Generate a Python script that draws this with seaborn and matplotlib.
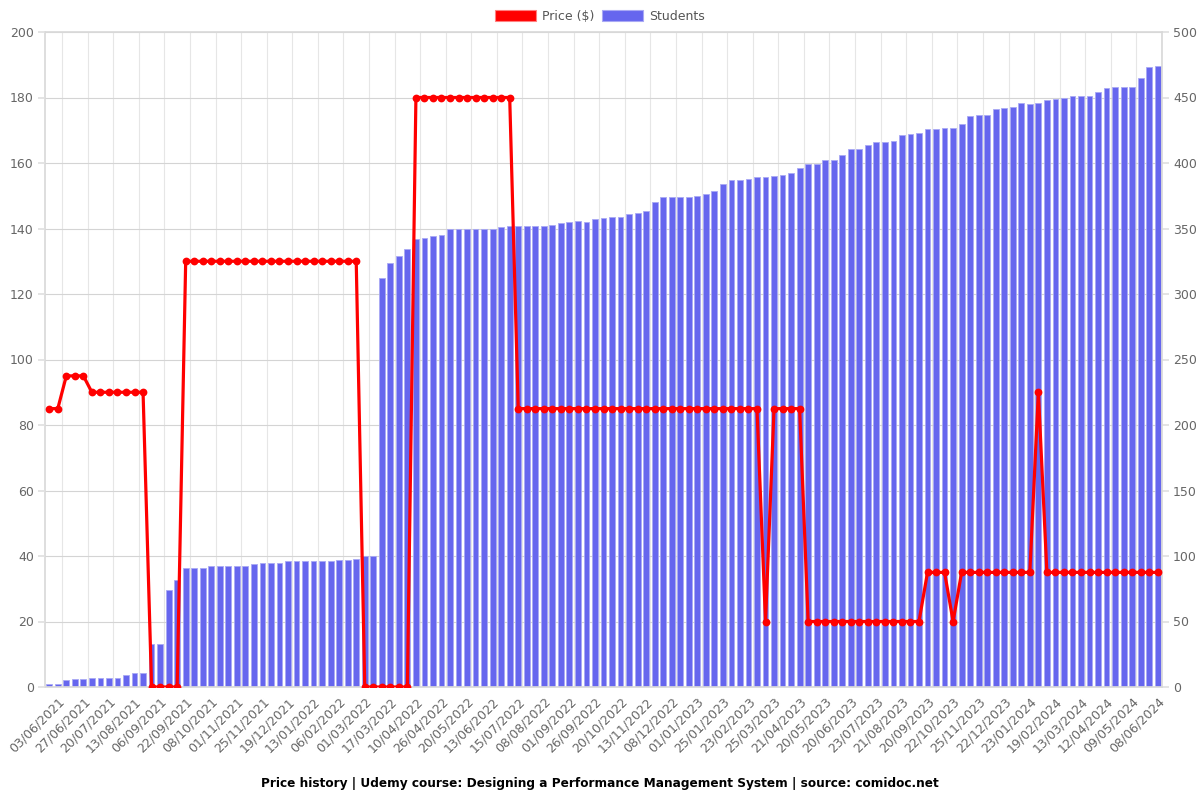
import matplotlib
matplotlib.use("Agg")
import matplotlib.pyplot as plt
import numpy as np
import pandas as pd
import seaborn as sns
from matplotlib.patches import Patch

# ---- data ----
price = ([85] * 2 + [95] * 3 + [90] * 7 + [0] * 4 + [130] * 21 + [0] * 6 +
         [180] * 12 + [85] * 29 + [20] + [85] * 4 + [20] * 14 + [35] * 3 +
         [20] + [35] * 9 + [90] + [35] * 14)

students = [2, 2, 5, 6, 6, 7, 7, 7, 7, 9, 11, 11, 33, 33, 74, 82, 91, 91, 91, 92,
            92, 92, 92, 92, 94, 95, 95, 95, 96, 96, 96, 96, 96, 96, 97, 97, 98, 100, 100, 312,
            324, 329, 334, 342, 343, 344, 345, 350, 350, 350, 350, 350, 350, 351, 352, 352, 352, 352, 352, 353,
            354, 355, 356, 355, 357, 358, 359, 359, 361, 362, 363, 370, 374, 374, 374, 374, 375, 376, 379, 384,
            387, 387, 388, 389, 389, 390, 391, 392, 396, 399, 399, 402, 402, 406, 411, 411, 414, 416, 416, 417,
            421, 422, 423, 426, 426, 427, 427, 430, 436, 437, 437, 441, 442, 443, 446, 445, 446, 448, 449, 450,
            451, 451, 451, 454, 457, 458, 458, 458, 465, 473, 474]

tick_labels = ["03/06/2021", "27/06/2021", "20/07/2021", "13/08/2021", "06/09/2021", "22/09/2021",
               "08/10/2021", "01/11/2021", "25/11/2021", "19/12/2021", "13/01/2022", "06/02/2022",
               "01/03/2022", "17/03/2022", "10/04/2022", "26/04/2022", "20/05/2022", "13/06/2022",
               "15/07/2022", "08/08/2022", "01/09/2022", "26/09/2022", "20/10/2022", "13/11/2022",
               "08/12/2022", "01/01/2023", "25/01/2023", "23/02/2023", "25/03/2023", "21/04/2023",
               "20/05/2023", "20/06/2023", "23/07/2023", "21/08/2023", "20/09/2023", "22/10/2023",
               "25/11/2023", "22/12/2023", "23/01/2024", "19/02/2024", "13/03/2024", "12/04/2024",
               "09/05/2024", "08/06/2024"]

title = "Price history | Udemy course: Designing a Performance Management System | source: comidoc.net"

n = len(price)
df = pd.DataFrame({"idx": np.arange(n), "price": price, "students": students})

sns.set_theme(style="white")
plt.rcParams["font.family"] = ["DejaVu Sans"]

W, H = 1200, 800
fig = plt.figure(figsize=(W / 100, H / 100), dpi=100)
ax = fig.add_axes([45 / W, 1 - 687 / H, (1162 - 45) / W, (687 - 32) / H])

BAR = "#6666ee"
RED = "#ff0000"
GRID = "#d4d4d4"
TXT = "#666666"

sns.barplot(data=df, x="idx", y="students", color=BAR, saturation=1, width=0.68,
            edgecolor="#a9a9f4", linewidth=0.6, ax=ax)
ax.set_ylim(0, 500)
ax.set_yticks(np.arange(0, 501, 50))
ax.set_axisbelow(True)
ax.yaxis.grid(True, color=GRID, linewidth=0.8)

ax2 = ax.twinx()
sns.lineplot(data=df, x="idx", y="price", color=RED, linewidth=2.3, marker="o",
             markersize=5.6, markeredgewidth=0, ax=ax2)
ax2.set_ylim(0, 200)
ax2.set_yticks(np.arange(0, 201, 20))
ax2.yaxis.tick_left()
ax.yaxis.tick_right()

ax.set_xlim(-0.5, n - 0.5)
label_pos = np.arange(1, n, 3)
ax.set_xticks(label_pos)
ax.set_xticklabels(tick_labels, rotation=45, ha="right", rotation_mode="anchor",
                   fontsize=9, color=TXT)
ax.set_xticks(np.arange(1.5, n, 3), minor=True)
ax.tick_params(axis="x", which="major", length=0, pad=6)
ax.tick_params(axis="x", which="minor", length=5, color="#e0e0e0", width=0.8)
ax.xaxis.grid(True, which="minor", color="#e6e6e6", linewidth=0.8)
ax.xaxis.grid(False, which="major")

ax.tick_params(axis="y", length=5, color="#e0e0e0", labelsize=9, labelcolor=TXT, pad=3)
ax2.tick_params(axis="y", length=5, color="#e0e0e0", labelsize=9, labelcolor=TXT, pad=3)

for a in (ax, ax2):
    a.set_xlabel("")
    a.set_ylabel("")
for s in ax.spines.values():
    s.set_color("#d9d9d9")
for s in ax2.spines.values():
    s.set_visible(False)

handles = [Patch(facecolor=RED, edgecolor="#ff8080", linewidth=0.8),
           Patch(facecolor=BAR, edgecolor="#a9a9f4", linewidth=0.8)]
fig.legend(handles=handles, labels=["Price ($)", "Students"], loc="center",
           bbox_to_anchor=(0.5, 1 - 16 / H), ncol=2, frameon=False, fontsize=9,
           labelcolor="#555555", handlelength=3.3, handleheight=1.0, handletextpad=0.5,
           columnspacing=0.6)

fig.text(0.5, 1 - 783 / H, title, ha="center", va="center", fontsize=8.7,
         fontweight="bold", color="black")

fig.savefig("out.png", dpi=100)
